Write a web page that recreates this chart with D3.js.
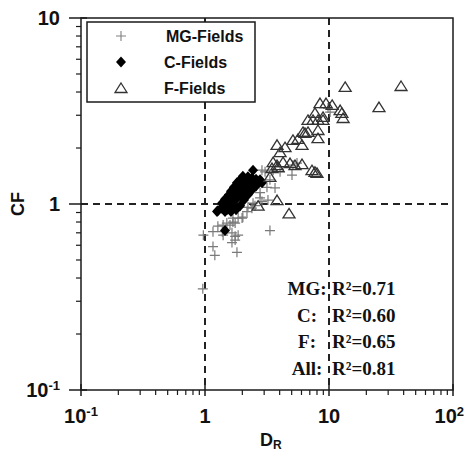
<!DOCTYPE html>
<html><head><meta charset="utf-8">
<script src="https://cdn.jsdelivr.net/npm/d3@7"></script>
<style>body{margin:0;background:#fff}svg{display:block}</style>
</head><body><div id="chart"></div>
<script>
// MG-Fields (D_R, CF)
const mgFields = [
  [2.88,1.52],[3.05,1.49],[3.54,1.52],[4.03,1.49],[5.03,1.43],[5.12,1.62],[5.52,1.66],
  [3.34,1.35],[3.67,1.22],[3.16,1.23],[2.78,1.08],[3.22,1.05],[2.22,0.96],[2.39,0.95],
  [2.53,0.98],[2.78,1.15],[2.44,1.01],[2.88,1.03],[2.18,0.91],[2.02,0.85],[1.85,0.84],
  [1.68,0.84],[1.75,0.79],[1.59,0.77],[1.40,0.77],[1.27,0.76],[1.16,0.71],[0.97,0.68],
  [1.38,0.71],[1.40,0.68],[1.65,0.70],[1.75,0.67],[1.85,0.68],[1.65,0.62],[1.81,0.55],
  [1.75,0.64],[1.16,0.59],[1.20,0.53],[3.34,0.72],[0.96,0.35],[1.99,0.84],[1.50,0.79],
  [1.68,0.80],[9.82,3.28],[10.2,3.12]
];
// C-Fields
const cFields = [
  [1.27,0.92],[1.35,0.95],[1.42,0.98],[1.37,1.01],[1.48,1.00],[1.53,1.04],[1.45,1.06],
  [1.59,1.08],[1.65,1.05],[1.56,1.12],[1.68,1.13],[1.75,1.10],[1.62,1.17],[1.78,1.19],
  [1.85,1.16],[1.71,1.23],[1.88,1.25],[1.95,1.22],[1.81,1.30],[1.99,1.31],[2.06,1.27],
  [1.92,1.35],[2.10,1.36],[2.18,1.30],[2.02,1.41],[2.22,1.40],[2.31,1.35],[2.39,1.38],
  [2.48,1.33],[2.58,1.36],[2.68,1.31],[2.78,1.35],[2.88,1.30],[2.14,1.23],[2.26,1.28],
  [1.78,1.06],[1.68,0.99],[1.56,0.96],[1.92,1.13],[2.06,1.19],[1.50,0.93],[1.62,0.91],
  [1.78,0.93],[1.92,0.98],[2.06,1.05],[2.22,1.12],[2.39,1.19],[2.58,1.25],[1.45,0.91],
  [2.44,1.52],[1.45,0.72],[1.25,0.91]
];
// F-Fields
const fFields = [
  [38.1,4.31],[13.5,4.26],[25.3,3.32],[8.46,3.49],[9.46,3.49],[10.6,3.41],[12.3,3.20],
  [12.7,3.09],[13.0,2.90],[7.71,3.09],[8.95,2.94],[6.77,2.83],[7.43,2.83],[8.95,2.83],
  [8.15,2.83],[6.17,2.44],[6.77,2.44],[8.15,2.50],[8.15,2.26],[5.12,2.21],[5.62,2.24],
  [6.40,2.41],[6.06,2.08],[3.81,2.08],[4.42,2.02],[4.03,1.90],[3.54,1.68],[3.81,1.62],
  [4.26,1.68],[4.85,1.66],[5.32,1.62],[6.06,1.64],[3.47,1.56],[3.88,1.58],[7.29,1.52],
  [7.71,1.49],[8.00,1.47],[3.34,1.40],[3.81,1.05],[2.68,0.98],[4.76,0.89]
];
const legendLabels = ["MG-Fields","C-Fields","F-Fields"];
const statNames = ["MG:","C:","F:","All:"];
const statValues = ["0.71","0.60","0.65","0.81"];
const xMajor = [0.1,1,10,100];
const yMajor = [0.1,1,10];
const refX = [1,10];
const refY = [1];

const W=465,H=453;
const svg=d3.select("#chart").append("svg").attr("width",W).attr("height",H);
const x=d3.scaleLog().domain([0.1,100]).range([81,453]);
const y=d3.scaleLog().domain([0.1,10]).range([390,18]);
const AX="#1a1a1a";

// minor ticks
const minors=(lo,hi)=>{const r=[];for(let e=lo;e<hi;e++)for(let k=2;k<=9;k++)r.push(k*Math.pow(10,e));return r;};
svg.append("g").selectAll("line").data(minors(-1,2)).join("line")
  .attr("x1",d=>x(d)).attr("x2",d=>x(d)).attr("y1",390).attr("y2",395)
  .attr("stroke",AX).attr("stroke-width",1.2);
svg.append("g").selectAll("line").data(minors(-1,1)).join("line")
  .attr("y1",d=>y(d)).attr("y2",d=>y(d)).attr("x1",76).attr("x2",81)
  .attr("stroke",AX).attr("stroke-width",1.2);
// major ticks (crossing)
svg.append("g").selectAll("line").data(xMajor).join("line")
  .attr("x1",d=>x(d)).attr("x2",d=>x(d)).attr("y1",384).attr("y2",396)
  .attr("stroke",AX).attr("stroke-width",1.5);
svg.append("g").selectAll("line").data(yMajor).join("line")
  .attr("y1",d=>y(d)).attr("y2",d=>y(d)).attr("x1",69).attr("x2",87)
  .attr("stroke",AX).attr("stroke-width",1.5);

// reference dashed lines
const dash="7,5";
svg.append("g").selectAll("line").data(refX).join("line")
  .attr("x1",d=>x(d)).attr("x2",d=>x(d)).attr("y1",18).attr("y2",390)
  .attr("stroke","#222").attr("stroke-width",2).attr("stroke-dasharray",dash);
svg.append("g").selectAll("line").data(refY).join("line")
  .attr("y1",d=>y(d)).attr("y2",d=>y(d)).attr("x1",81).attr("x2",453)
  .attr("stroke","#222").attr("stroke-width",2).attr("stroke-dasharray",dash);

// frame
svg.append("rect").attr("x",81).attr("y",18).attr("width",372).attr("height",372)
  .attr("fill","none").attr("stroke",AX).attr("stroke-width",1.5);

// symbols
const crossPath="M-5,0H5M0,-5V5";
const diamondPath="M0,-5.5L5,0L0,5.5L-5,0Z";
const triPath="M0,-5L6,4.5L-6,4.5Z";
const drawSeries=(data,path,fill,stroke,sw)=>svg.append("g").selectAll("path").data(data).join("path")
  .attr("transform",d=>`translate(${x(d[0])},${y(d[1])})`).attr("d",path)
  .attr("fill",fill).attr("stroke",stroke).attr("stroke-width",sw);
drawSeries(mgFields,crossPath,"none","#7a7a7a",1.2);
drawSeries(cFields,diamondPath,"#000","none",0);
drawSeries(fFields,triPath,"none","#333",1.3);

// legend
const lg=svg.append("g");
lg.append("rect").attr("x",87).attr("y",22).attr("width",168).attr("height",80)
  .attr("fill","#fff").attr("stroke",AX).attr("stroke-width",1.5);
const legPaths=[[crossPath,"none","#808080",1.1],[diamondPath,"#000","none",0],[triPath,"none","#333",1.3]];
legendLabels.forEach((t,i)=>{
  const cy=36+i*26;
  lg.append("path").attr("transform",`translate(121,${cy})`).attr("d",legPaths[i][0])
    .attr("fill",legPaths[i][1]).attr("stroke",legPaths[i][2]).attr("stroke-width",legPaths[i][3]);
  lg.append("text").attr("x",i===0?166:164).attr("y",cy+6).text(t)
    .attr("font-family","Liberation Sans, Arial, sans-serif").attr("font-weight","bold")
    .attr("font-size",16).attr("fill","#111");
});

// tick labels
const tf="Liberation Sans, Arial, sans-serif";
const lab=(sel,v)=>{
  if(v===1){sel.append("tspan").text("1");}
  else if(v===10){sel.append("tspan").text("10");}
  else{const e=Math.round(Math.log10(v));sel.append("tspan").text("10");
    sel.append("tspan").attr("dy",-7).attr("font-size",13).text(e<0?"-"+(-e):String(e));}
};
xMajor.forEach(v=>{
  const last=v===100;
  const t=svg.append("text").attr("x",last?464:x(v)).attr("y",423).attr("text-anchor",last?"end":"middle")
    .attr("font-family",tf).attr("font-weight","bold").attr("font-size",20).attr("fill","#111");
  lab(t,v);
});
yMajor.forEach(v=>{
  const t=svg.append("text").attr("x",60).attr("y",y(v)+7).attr("text-anchor","end")
    .attr("font-family",tf).attr("font-weight","bold").attr("font-size",20).attr("fill","#111");
  lab(t,v);
});

// axis titles
svg.append("text").attr("transform","translate(24,204) rotate(-90)").attr("text-anchor","middle")
  .attr("font-family",tf).attr("font-weight","bold").attr("font-size",18).attr("fill","#111").text("CF");
const xt=svg.append("text").attr("x",260).attr("y",446)
  .attr("font-family",tf).attr("font-weight","bold").attr("font-size",18).attr("fill","#111");
xt.append("tspan").text("D");
xt.append("tspan").attr("dy",3).attr("font-size",12).text("R");

// R² annotation
const sf="Liberation Serif, Times New Roman, serif";
statNames.forEach((n,i)=>{
  const by=295+i*26.5;
  svg.append("text").attr("x",307).attr("y",by).attr("text-anchor","middle")
    .attr("font-family",sf).attr("font-weight","bold").attr("font-size",19).attr("fill","#111").text(n);
  svg.append("text").attr("x",332).attr("y",by)
    .attr("font-family",sf).attr("font-weight","bold").attr("font-size",19).attr("fill","#111").text("R²="+statValues[i]);
});
</script></body></html>
